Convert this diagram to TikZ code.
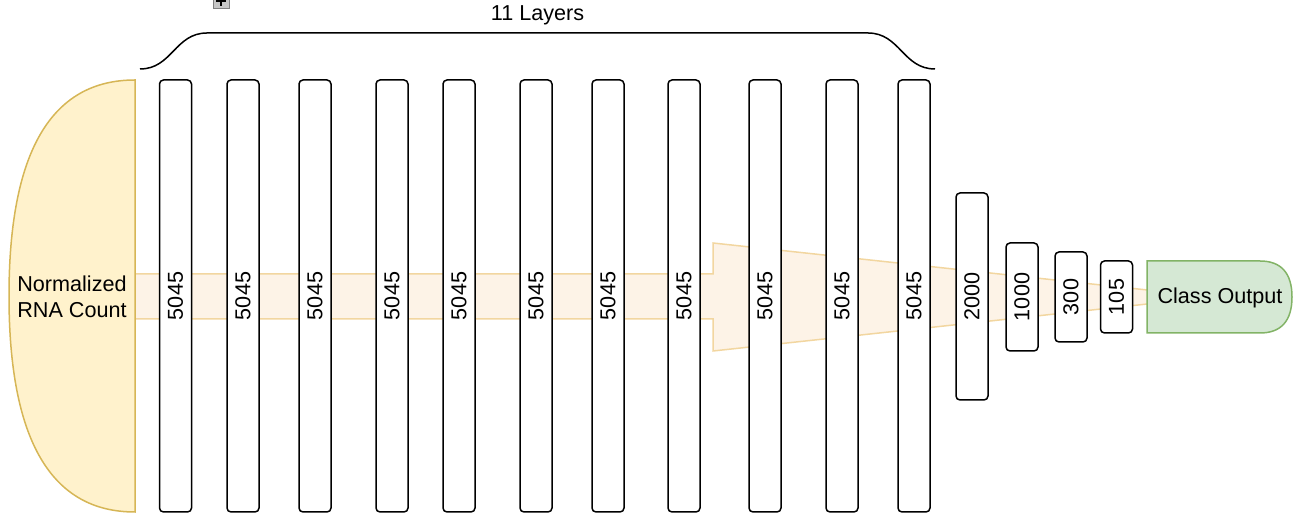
\documentclass[tikz,border=0pt]{standalone}
\usepackage{fontspec}
\setmainfont{Liberation Sans}
\usepackage{xcolor}
\usetikzlibrary{positioning}

\definecolor{inputfill}{RGB}{255,242,204}
\definecolor{inputline}{RGB}{214,182,86}
\definecolor{outfill}{RGB}{213,232,212}
\definecolor{outdraw}{RGB}{130,179,102}
\definecolor{flowfill}{RGB}{253,243,231}
\definecolor{flowline}{RGB}{242,214,160}

\tikzset{
  layer/.style={draw,fill=white,rounded corners=2pt,line width=.75pt,rotate=90,
    minimum height=16pt,inner sep=0pt},
  lbl/.style={inner sep=0pt,align=center}
}

\begin{document}
\begin{tikzpicture}[x=.5pt,y=-.5pt,every node/.style={font=\fontsize{10.8}{13}\selectfont}]
  \useasboundingbox (0,0) rectangle (1302,522);

  % flow arrow behind everything
  \draw[fill=flowfill,draw=flowline,line width=.75pt]
    (120,274) -- (713,274) -- (713,243) -- (1212,297) -- (713,351) -- (713,319)
    -- (120,319) -- cycle;

  % input
  \draw[fill=inputfill,draw=inputline,line width=.75pt]
    (135,80) .. controls (51,80) and (9,152) .. (9,296)
    .. controls (9,440) and (51,512) .. (135,512) -- cycle;
  \node[lbl] (input) at (72,297) {Normalized\\RNA Count};

  % 11 wide layers
  \foreach \x [count=\i] in {175.5,243,315,392,459,536,608,684,765,842,914}
    \node[layer,minimum width=216pt] (l\i) at (\x,296) {5045};

  % shrinking layers
  \node[layer,minimum width=103.5pt] (d1) at (972,296.5) {2000};
  \node[layer,minimum width=54pt]    (d2) at (1022,297) {1000};
  \node[layer,minimum width=45pt]    (d3) at (1071,297) {300};
  \node[layer,minimum width=36pt]    (d4) at (1116.5,297) {105};

  % output
  \draw[fill=outfill,draw=outdraw,line width=.75pt]
    (1147,261) -- (1260,261) .. controls (1281,261) and (1292,273) .. (1292,297)
    .. controls (1292,321) and (1281,333) .. (1260,333) -- (1147,333) -- cycle;
  \node[lbl] (out) at (1220,298) {Class Output};

  % brace
  \draw[line width=.75pt] (140,69) .. controls (172,69) and (175,33) .. (207,33)
    -- (868,33) .. controls (900,33) and (903,69) .. (935,69);
  \node[lbl] (brace) at (537.5,15) {11 Layers};

  % collapse button
  \draw[fill=gray!45,draw=gray] (213,-8) rectangle (229,8);
  \draw[line width=1pt] (216,1) -- (226,1) (221,-4) -- (221,6);
\end{tikzpicture}
\end{document}
